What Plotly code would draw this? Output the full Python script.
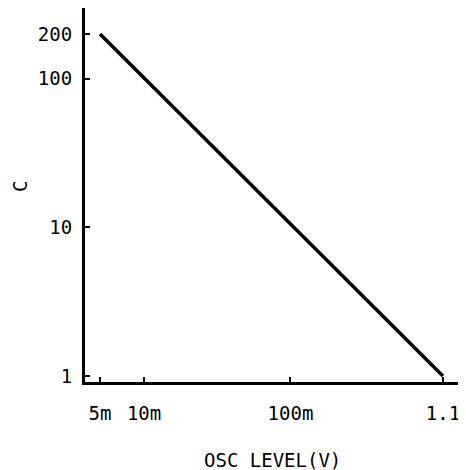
import plotly.graph_objects as go

# Data
osc_level = [0.005, 1.1]
c_values = [200, 1]

x_tick_vals = [0.005, 0.01, 0.1, 1.1]
x_tick_text = ["5m", "10m", "100m", "1.1"]
y_tick_vals = [1, 10, 100, 200]
y_tick_text = ["1", "10", "100", "200"]

FONT = "DejaVu Sans Mono"

fig = go.Figure()
fig.add_trace(go.Scatter(
    x=osc_level, y=c_values, mode="lines",
    line=dict(color="black", width=3.5),
    showlegend=False, hoverinfo="skip",
))

# page has an 8px body margin; figure div starts at (8, 8)
OFF = 8
W, H = 466 - OFF, 470 - OFF
L, R, T, B = 85 - OFF, 0, 8 - OFF, 88
pw = W - L - R
ph = H - T - B


def px_x(x):
    return (x - OFF - L) / pw


def px_y(y):
    return (H - B - (y - OFF)) / ph


fig.update_layout(
    width=W, height=H,
    margin=dict(l=L, r=R, t=T, b=B, pad=0),
    paper_bgcolor="white", plot_bgcolor="white",
    font=dict(family=FONT, size=19, color="black"),
    xaxis=dict(
        type="log", range=[-2.4035, 0.199],
        tickvals=x_tick_vals, ticktext=x_tick_text,
        ticks="inside", ticklen=5, tickwidth=2, tickcolor="black",
        showline=True, linecolor="black", linewidth=3,
        showgrid=False, zeroline=False, mirror=False,
        ticklabelstandoff=12,
    ),
    yaxis=dict(
        type="log", range=[-0.040, 2.476],
        tickvals=y_tick_vals, ticktext=y_tick_text,
        ticks="inside", ticklen=5, tickwidth=2, tickcolor="black",
        showline=True, linecolor="black", linewidth=3,
        showgrid=False, zeroline=False, mirror=False,
        ticklabelstandoff=6,
    ),
    annotations=[
        dict(text="OSC LEVEL(V)", xref="paper", yref="paper",
             x=px_x(272), y=px_y(460),
             xanchor="center", yanchor="middle", showarrow=False,
             font=dict(family=FONT, size=19)),
        dict(text="C", xref="paper", yref="paper",
             x=px_x(20), y=px_y(187),
             xanchor="center", yanchor="middle", showarrow=False,
             textangle=-90, font=dict(family=FONT, size=19)),
    ],
)

fig.write_html("out.html")
